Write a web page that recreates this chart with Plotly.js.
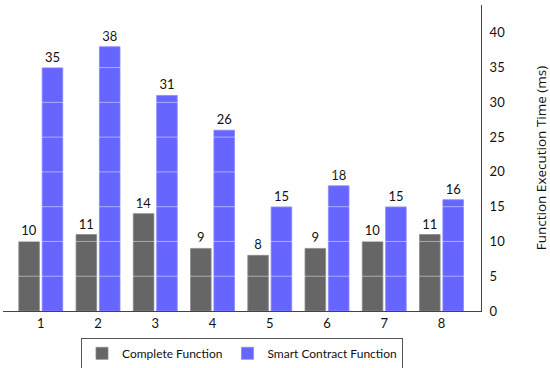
<!DOCTYPE html>
<html><head><meta charset="utf-8">
<script src="https://cdn.plot.ly/plotly-3.0.1.min.js"></script>
<style>html,body{margin:0;padding:0;background:#fff}#chart{width:550px;height:368px}</style>
</head><body><div id="chart"></div>
<script>
const categories = [1, 2, 3, 4, 5, 6, 7, 8];
const completeFunction = [10, 11, 14, 9, 8, 9, 10, 11];
const smartContractFunction = [35, 38, 31, 26, 15, 18, 15, 16];
const yTicks = [0, 5, 10, 15, 20, 25, 30, 35, 40];

const font = {family: 'Lato, "DejaVu Sans", sans-serif', size: 13, color: '#111'};

const traces = [
  {type: 'bar', name: 'Complete Function', x: categories, y: completeFunction,
   text: completeFunction.map(String), textposition: 'outside', cliponaxis: false,
   textfont: {family: font.family, size: 13, color: '#111'},
   marker: {color: '#666666', line: {color: '#8a8a8a', width: 0.8}}},
  {type: 'bar', name: 'Smart Contract Function', x: categories, y: smartContractFunction,
   text: smartContractFunction.map(String), textposition: 'outside', cliponaxis: false,
   textfont: {family: font.family, size: 13, color: '#111'},
   marker: {color: '#6666ff', line: {color: '#8888ff', width: 0.8}}}
];

const gridShapes = yTicks.filter(v => v > 0).map(v => ({
  type: 'line', xref: 'paper', yref: 'y', x0: 0, x1: 1, y0: v, y1: v,
  layer: 'above', line: {color: 'rgba(255,255,255,0.45)', width: 1}
}));

const layout = {
  width: 550, height: 368,
  margin: {l: 3, r: 69, t: 5, b: 57, autoexpand: false},
  paper_bgcolor: '#fff', plot_bgcolor: '#fff',
  font: font,
  barmode: 'group', bargap: 0.184, bargroupgap: 0.118,
  showlegend: true,
  legend: {orientation: 'h', x: 0.5, xanchor: 'center', yref: 'container', y: 0.082, yanchor: 'top',
           bordercolor: '#555', borderwidth: 1, font: {family: font.family, size: 12, color: '#111'},
           itemwidth: 30, tracegroupgap: 0},
  xaxis: {range: [0.34, 8.69], tickvals: categories, ticktext: categories.map(String),
          showgrid: false, zeroline: false, showline: true, linecolor: '#444', linewidth: 1,
          ticks: '', tickfont: {size: 13, color: '#111'}, fixedrange: true, automargin: false},
  yaxis: {side: 'right', range: [0, 44], tickvals: yTicks, ticktext: yTicks.map(String),
          showgrid: false, zeroline: false, showline: true, linecolor: '#444', linewidth: 1,
          ticks: '', ticklabelstandoff: 5, tickfont: {size: 13, color: '#111'}, automargin: false,
          title: {text: 'Function Execution Time (ms)', font: {family: '"Open Sans", Lato, sans-serif', size: 13.5, color: '#111'}, standoff: 32}},
  shapes: gridShapes
};

Plotly.newPlot('chart', traces, layout, {displayModeBar: false, staticPlot: true});
</script></body></html>
